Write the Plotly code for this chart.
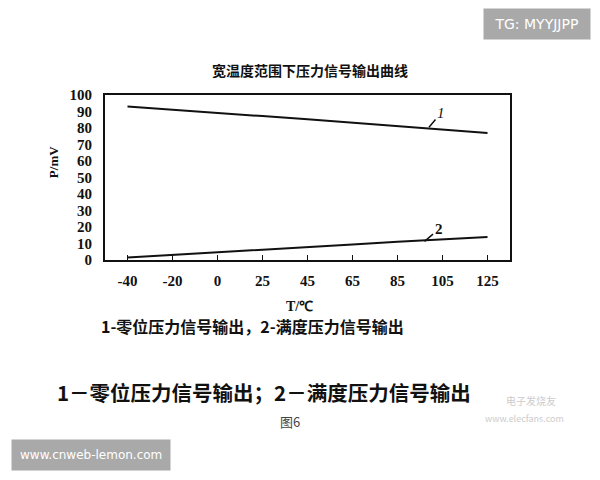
import plotly.graph_objects as go

temps = ["-40", "-20", "0", "25", "45", "65", "85", "105", "125"]
zero_out = [93, 91.2, 89.3, 87.2, 85.3, 83.2, 81.3, 79.2, 77]   # curve 1
full_out = [1.5, 3, 4.6, 6.3, 7.8, 9.4, 11, 12.6, 14]         # curve 2
y_ticks = [0, 10, 20, 30, 40, 50, 60, 70, 80, 90, 100]

CJK = "Noto Sans CJK SC"
NUM = "Liberation Serif"

fig = go.Figure()
fig.add_trace(go.Scatter(x=temps, y=zero_out, mode="lines",
                         line=dict(color="#111", width=2), showlegend=False))
fig.add_trace(go.Scatter(x=temps, y=full_out, mode="lines",
                         line=dict(color="#111", width=2), showlegend=False))

fig.update_layout(
    width=592, height=472,
    paper_bgcolor="white", plot_bgcolor="white",
    margin=dict(l=97, r=90, t=87, b=220),
    xaxis=dict(type="category", range=[-0.5, 8.5], showgrid=False,
               showline=True, linecolor="#111", linewidth=2, mirror=True,
               ticks="inside", ticklen=5, tickcolor="#111",
               tickfont=dict(family=NUM, size=15, color="#111", weight="bold"),
               ticklabelstandoff=6),
    yaxis=dict(range=[0, 100], tickvals=y_ticks, showgrid=False, zeroline=False,
               showline=True, linecolor="#111", linewidth=2, mirror=True,
               ticks="", tickfont=dict(family=NUM, size=15, color="#111", weight="bold"),
               ticklabelstandoff=8),
)

# title
fig.add_annotation(text="<b>宽温度范围下压力信号输出曲线</b>", xref="paper", yref="paper",
                   x=0.5, y=1.0, yshift=37, xshift=2, showarrow=False,
                   font=dict(family=CJK, size=14, color="#111"))
# y axis label
fig.add_annotation(text="<b>P/mV</b>", xref="paper", yref="paper", x=0, y=0.59,
                   xshift=-61, textangle=-90, showarrow=False,
                   font=dict(family=NUM, size=13, color="#111"))
# x axis label
fig.add_annotation(text="<b>T/℃</b>", xref="paper", yref="paper", x=0.48, y=0,
                   yshift=-56, showarrow=False,
                   font=dict(family=NUM, size=14, color="#111"))
# curve labels
fig.add_annotation(x=6.7, y=80.5, text="<i>1</i>", showarrow=True, arrowhead=0,
                   arrowwidth=1.5, arrowcolor="#111", ax=12, ay=-14,
                   font=dict(family=NUM, size=15, color="#111"))
fig.add_annotation(x=6.6, y=11.3, text="<b>2</b>", showarrow=True, arrowhead=0,
                   arrowwidth=1.5, arrowcolor="#111", ax=14, ay=-12,
                   font=dict(family=NUM, size=15, color="#111"))
# caption under chart
fig.add_annotation(text="<b>1-零位压力信号输出，2-满度压力信号输出</b>", xref="paper", yref="paper",
                   x=0, y=0, xshift=-6, yshift=-80, xanchor="left", showarrow=False,
                   font=dict(family=CJK, size=16, color="#111"))
# large caption
fig.add_annotation(text="<b>1－零位压力信号输出；2－满度压力信号输出</b>", xref="paper", yref="paper",
                   x=0, y=0, xshift=-50, yshift=-149, xanchor="left", showarrow=False,
                   font=dict(family=CJK, size=20.5, color="#111"))
fig.add_annotation(text="图6", xref="paper", yref="paper", x=0, y=0, xshift=173,
                   yshift=-173, showarrow=False,
                   font=dict(family=CJK, size=13, color="#444"))
# faint logo text
fig.add_annotation(text="电子发烧友", xref="paper", yref="paper",
                   x=1, y=0, xshift=48, yshift=-150, xanchor="right", showarrow=False,
                   font=dict(family=CJK, size=10, color="#ccc"))
fig.add_annotation(text="www.elecfans.com", xref="paper", yref="paper",
                   x=1, y=0, xshift=56, yshift=-167, xanchor="right", showarrow=False,
                   font=dict(family=CJK, size=9, color="#ccc"))
# watermark boxes
fig.add_annotation(text="&nbsp;TG: MYYJJPP&nbsp;", xref="paper", yref="paper", x=1, y=1,
                   xshift=81, yshift=87, showarrow=False, bgcolor="#a9a9a9",
                   borderpad=7, font=dict(family="DejaVu Sans", size=14, color="white"))
fig.add_annotation(text="www.cnweb-lemon.com", xref="paper", yref="paper", x=0, y=0,
                   xshift=-94, yshift=-211, showarrow=False, bgcolor="#a9a9a9",
                   borderpad=8, font=dict(family="DejaVu Sans", size=12, color="white"))

fig.write_html("out.html")
